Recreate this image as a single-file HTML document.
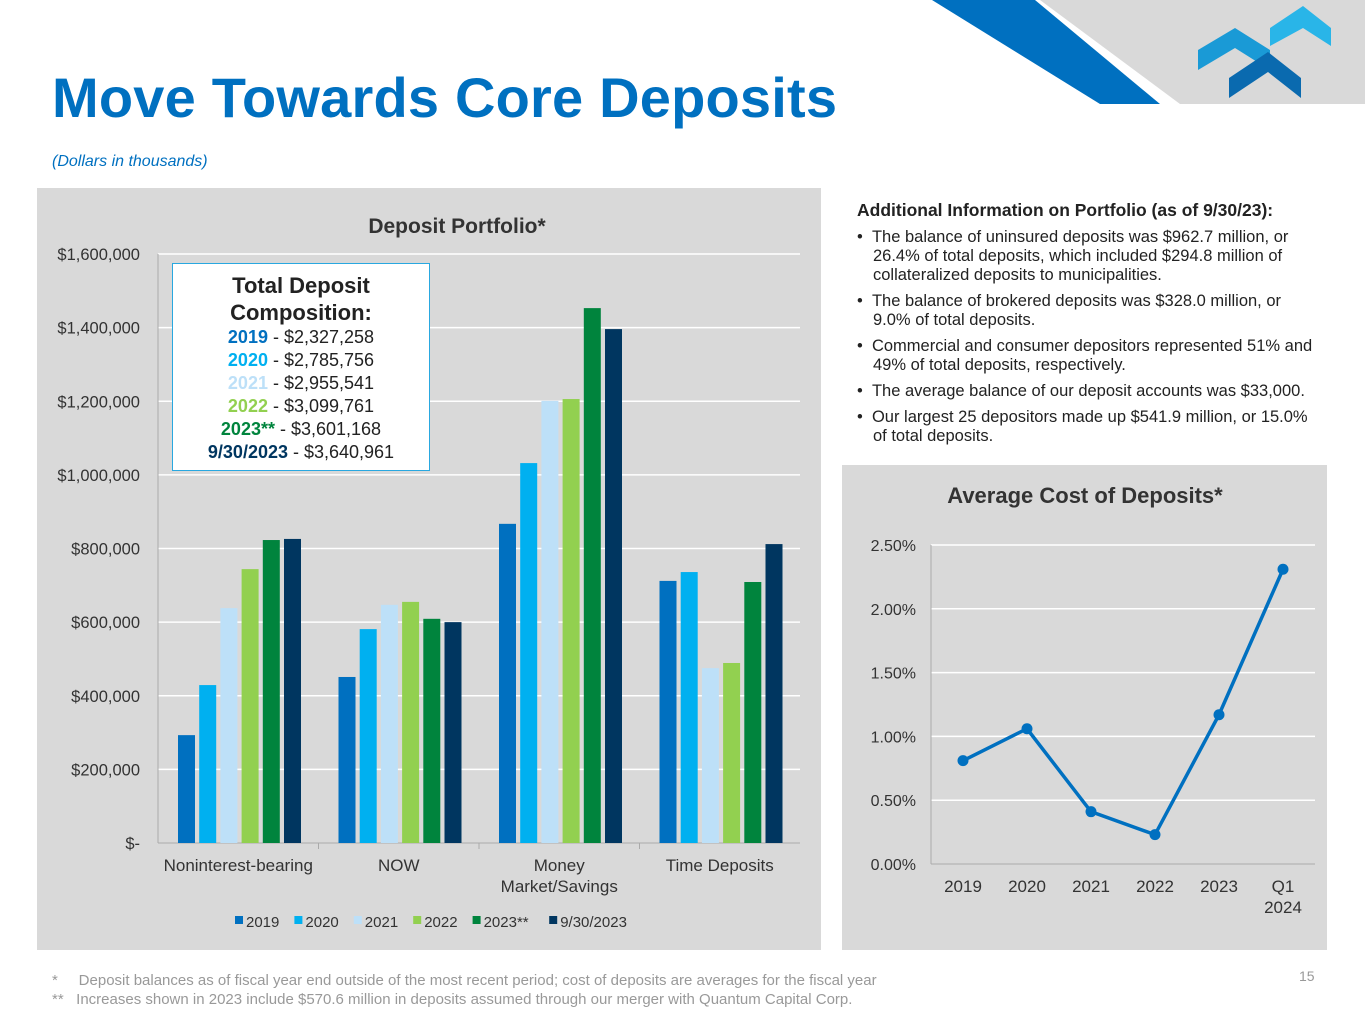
<!DOCTYPE html>
<html><head><meta charset="utf-8"><style>
body{margin:0;width:1365px;height:1024px;background:#fff;position:relative;overflow:hidden;font-family:"Liberation Sans",Arial,sans-serif;}
.abs{position:absolute;}
</style></head><body>
<svg class="abs" style="left:0;top:0" width="1365" height="110">
<polygon points="1040,0 1365,0 1365,104 1180,104" fill="#d9d9d9"/>
<polygon points="932,0 1035,0 1160,104 1100,104" fill="#0070c0"/>
<polygon points="1198,50 1235,28 1270,50 1270,70 1235,48 1198,70" fill="#1a9ad6"/>
<polygon points="1270,28 1303,6 1331,28 1331,46 1303,28 1270,46" fill="#29b5e8"/>
<polygon points="1229,78 1268,52 1301,78 1301,98 1268,72 1229,98" fill="#0a6aaf"/>
</svg>
<div class="abs" style="left:52px;top:65px;font-size:56px;font-weight:bold;color:#0070c0;letter-spacing:0.2px;">Move Towards Core Deposits</div>
<div class="abs" style="left:52px;top:153px;font-size:16px;font-style:italic;color:#0070c0;">(Dollars in thousands)</div>

<svg class="abs" style="left:37px;top:188px" width="784" height="762" id="bar"></svg>

<div class="abs" style="left:172px;top:263px;width:256px;height:206px;background:#fff;border:1.5px solid #29a8e0;text-align:center;font-size:18px;line-height:23px;color:#222;">
<div style="font-size:22px;font-weight:bold;line-height:27px;margin-top:8px;">Total Deposit<br>Composition:</div>
<div><b style="color:#0070c0">2019</b> - $2,327,258</div>
<div><b style="color:#00b0f0">2020</b> - $2,785,756</div>
<div><b style="color:#bde0f8">2021</b> - $2,955,541</div>
<div><b style="color:#92d050">2022</b> - $3,099,761</div>
<div><b style="color:#00843d">2023**</b> - $3,601,168</div>
<div><b style="color:#003660">9/30/2023</b> - $3,640,961</div>
</div>

<div class="abs" style="left:857px;top:201px;width:475px;font-size:16.5px;color:#222;line-height:19px;">
<div style="font-weight:bold;font-size:17.5px;margin-bottom:8px;">Additional Information on Portfolio (as of 9/30/23):</div>
<div style="padding-left:16px;text-indent:-16px;margin-bottom:7px;">•&nbsp;&nbsp;The balance of uninsured deposits was $962.7 million, or<br>26.4% of total deposits, which included $294.8 million of<br>collateralized deposits to municipalities.</div>
<div style="padding-left:16px;text-indent:-16px;margin-bottom:7px;">•&nbsp;&nbsp;The balance of brokered deposits was $328.0 million, or<br>9.0% of total deposits.</div>
<div style="padding-left:16px;text-indent:-16px;margin-bottom:7px;">•&nbsp;&nbsp;Commercial and consumer depositors represented 51% and<br>49% of total deposits, respectively.</div>
<div style="padding-left:16px;text-indent:-16px;margin-bottom:7px;">•&nbsp;&nbsp;The average balance of our deposit accounts was $33,000.</div>
<div style="padding-left:16px;text-indent:-16px;">•&nbsp;&nbsp;Our largest 25 depositors made up $541.9 million, or 15.0%<br>of total deposits.</div>
</div>

<svg class="abs" style="left:842px;top:465px" width="485" height="485" id="line"></svg>

<div class="abs" style="left:52px;top:971px;font-size:15px;color:#999;line-height:19px;">
<div>*&nbsp;&nbsp;&nbsp;&nbsp;&nbsp;Deposit balances as of fiscal year end outside of the most recent period; cost of deposits are averages for the fiscal year</div>
<div>**&nbsp;&nbsp;&nbsp;Increases shown in 2023 include $570.6 million in deposits assumed through our merger with Quantum Capital Corp.</div>
</div>
<div class="abs" style="left:1299px;top:968px;font-size:14px;color:#999;">15</div>

<script>
const NS="http://www.w3.org/2000/svg";
function mk(p,t,a,txt){const e=document.createElementNS(NS,t);for(const k in a)e.setAttribute(k,a[k]);if(txt!==undefined)e.textContent=txt;p.appendChild(e);return e;}

const barCategories=["Noninterest-bearing","NOW","Money|Market/Savings","Time Deposits"];
const barSeriesNames=["2019","2020","2021","2022","2023**","9/30/2023"];
const s2019=[293,451,867,712];
const s2020=[429,581,1032,736];
const s2021=[638,647,1201,475];
const s2022=[744,655,1206,489];
const s2023=[823,609,1453,709];
const s0930=[826,600,1396,812];
const barYTicks=[0,200,400,600,800,1000,1200,1400,1600];
const barYTickLabels=["$-","$200,000","$400,000","$600,000","$800,000","$1,000,000","$1,200,000","$1,400,000","$1,600,000"];

const lineCategories=["2019","2020","2021","2022","2023","Q1|2024"];
const lineValues=[0.81,1.06,0.41,0.23,1.17,2.31];
const lineYTicks=[0,0.5,1,1.5,2,2.5];
const lineYTickLabels=["0.00%","0.50%","1.00%","1.50%","2.00%","2.50%"];

(function(){
const svg=document.getElementById('bar');
mk(svg,'rect',{x:0,y:0,width:784,height:762,fill:'#d9d9d9'});
const t=mk(svg,'text',{x:420,y:45,'text-anchor':'middle','font-size':21,'font-weight':'bold',fill:'#333'},'Deposit Portfolio*');

const x0=121,x1=763,yb=655,yt=66;
const y=v=>yb-(v/1600)*(yb-yt);
barYTicks.forEach((v,i)=>{
 if(v>0){const g=mk(svg,'line',{x1:x0,x2:x1,y1:y(v),y2:y(v),stroke:'#fff','stroke-width':1.5});}
 const l=mk(svg,'text',{x:x0-18,y:y(v)+6,'text-anchor':'end','font-size':16.5,fill:'#333'},barYTickLabels[i]);
 
});
mk(svg,'line',{x1:x0,x2:x0,y1:yt,y2:yb,stroke:'#aaa'});
mk(svg,'line',{x1:x0,x2:x1,y1:yb,y2:yb,stroke:'#aaa'});
const series=[s2019,s2020,s2021,s2022,s2023,s0930];
const colors=['#0070c0','#00b0f0','#bde0f8','#92d050','#00843d','#003660'];
const gw=(x1-x0)/barCategories.length,bw=17,step=21.2;
barCategories.forEach((c,ci)=>{
 const gx=x0+gw*ci;
 if(ci>0)mk(svg,'line',{x1:gx,x2:gx,y1:yb,y2:yb+6,stroke:'#aaa'});
 series.forEach((s,si)=>{
  const bx=gx+20+si*step;
  const r=mk(svg,'rect',{x:bx,y:y(s[ci]),width:bw,height:yb-y(s[ci]),fill:colors[si]});
  
  
 });
 c.split('|').forEach((p,pi)=>{
  const l=mk(svg,'text',{x:gx+gw/2,y:yb+28+pi*21,'text-anchor':'middle','font-size':17,fill:'#333'},p);
  
 });
});
let lx=198;
barSeriesNames.forEach((n,i)=>{
 const sw=mk(svg,'rect',{x:lx,y:728,width:8,height:8,fill:colors[i]});
 
 const l=mk(svg,'text',{x:lx+11,y:739,'font-size':15,fill:'#333'},n);
 
 lx+=11+n.length*8.6+14;
});
})();

(function(){
const svg=document.getElementById('line');
mk(svg,'rect',{x:0,y:0,width:485,height:485,fill:'#d9d9d9'});
const t=mk(svg,'text',{x:243,y:38,'text-anchor':'middle','font-size':22,'font-weight':'bold',fill:'#333'},'Average Cost of Deposits*');

const x0=89,x1=473,yb=399,yt=80;
const y=v=>yb-(v/2.5)*(yb-yt);
const x=i=>x0+(x1-x0)/lineCategories.length*(i+0.5);
lineYTicks.forEach((v,i)=>{
 if(v>0){const g=mk(svg,'line',{x1:x0,x2:x1,y1:y(v),y2:y(v),stroke:'#fff','stroke-width':1.5});}
 const l=mk(svg,'text',{x:x0-15,y:y(v)+6,'text-anchor':'end','font-size':16,fill:'#333'},lineYTickLabels[i]);
 
});
mk(svg,'line',{x1:x0,x2:x0,y1:yt,y2:yb,stroke:'#aaa'});
mk(svg,'line',{x1:x0,x2:x1,y1:yb,y2:yb,stroke:'#aaa'});
const pts=lineValues.map((v,i)=>x(i)+','+y(v)).join(' ');
const pl=mk(svg,'polyline',{points:pts,fill:'none',stroke:'#0070c0','stroke-width':3.5});

lineValues.forEach((v,i)=>{
 const c=mk(svg,'circle',{cx:x(i),cy:y(v),r:5.5,fill:'#0070c0'});
 
});
lineCategories.forEach((c,i)=>{
 c.split('|').forEach((p,pi)=>{
  const l=mk(svg,'text',{x:x(i),y:yb+28+pi*21,'text-anchor':'middle','font-size':17,fill:'#333'},p);
  
 });
});
})();
</script>
</body></html>
